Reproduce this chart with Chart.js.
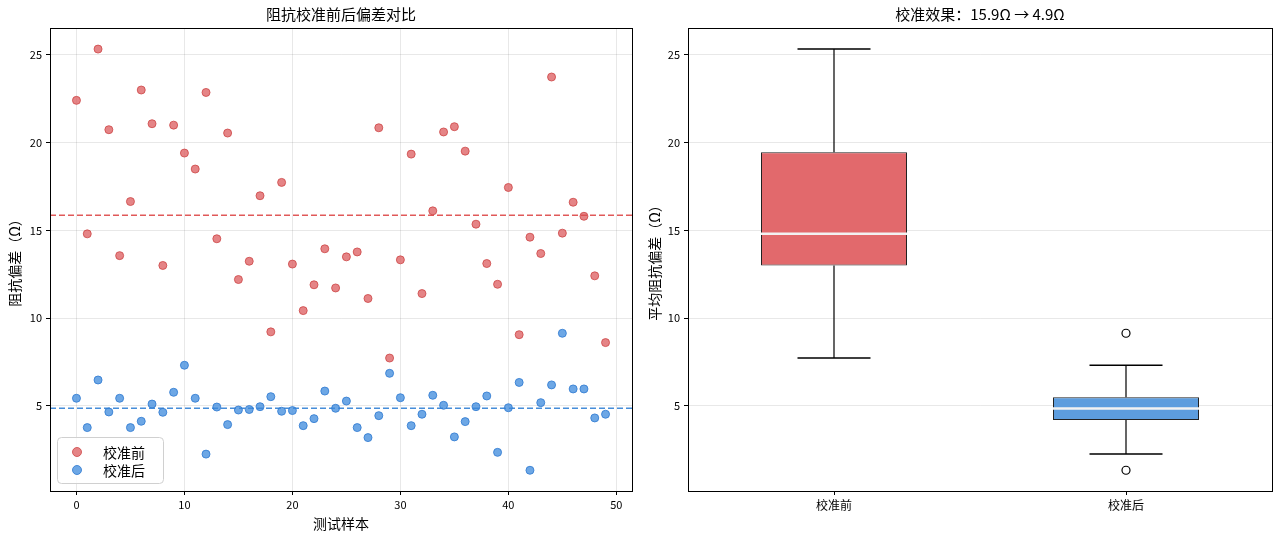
<!DOCTYPE html>
<html>
<head>
<meta charset="utf-8">
<script src="https://cdn.jsdelivr.net/npm/chart.js@4.4.1/dist/chart.umd.min.js"></script>
<style>
  body { margin: 0; background: #fff; }
  .wrap { display: flex; width: 1280px; height: 537px; }
  canvas { display: block; }
</style>
</head>
<body>
<div class="wrap">
  <canvas id="scatter" width="640" height="537"></canvas>
  <canvas id="box" width="640" height="537"></canvas>
</div>
<script>
const FONT = "'Noto Sans CJK SC', 'DejaVu Sans', sans-serif";

// sample index 0..49
const samples = [];
for (let i = 0; i < 50; i++) samples.push(i);

const before = [22.4, 14.8, 25.32, 20.73, 13.56, 16.64, 22.99, 21.07, 13.0, 20.99,
  19.4, 18.49, 22.85, 14.52, 20.54, 12.2, 13.24, 16.97, 9.22, 17.73,
  13.08, 10.43, 11.9, 13.95, 11.72, 13.49, 13.77, 11.12, 20.84, 7.73,
  13.32, 19.34, 11.4, 16.11, 20.6, 20.9, 19.51, 15.35, 13.11, 11.93,
  17.44, 9.06, 14.61, 13.68, 23.73, 14.84, 16.6, 15.8, 12.41, 8.61];

const after = [5.44, 3.77, 6.48, 4.66, 5.44, 3.77, 4.13, 5.11, 4.64, 5.78,
  7.32, 5.44, 2.26, 4.94, 3.94, 4.77, 4.8, 4.96, 5.53, 4.7,
  4.74, 3.88, 4.28, 5.85, 4.87, 5.28, 3.77, 3.2, 4.45, 6.86,
  5.47, 3.88, 4.53, 5.61, 5.04, 3.24, 4.11, 4.96, 5.57, 2.36,
  4.9, 6.34, 1.34, 5.19, 6.2, 9.14, 5.97, 5.97, 4.32, 4.53];

const meanBefore = 15.86;
const meanAfter = 4.87;

// box plot stats: [whiskerLow, q1, median, q3, whiskerHigh]
const boxLabels = ['校准前', '校准后'];
const boxStats = [
  [7.73, 13.0, 14.8, 19.45, 25.32],
  [2.26, 4.2, 4.85, 5.5, 7.32]
];
const fliers = [[], [9.14, 1.34]];

const yTicks = [5, 10, 15, 20, 25];
const yMin = 0.16, yMax = 26.52;

const redFill = 'rgba(218,80,82,0.7)';
const redEdge = 'rgba(205,70,70,0.8)';
const blueFill = 'rgba(60,138,220,0.75)';
const blueEdge = 'rgba(50,125,210,0.85)';

// frame around the plot area
const frame = {
  id: 'frame',
  afterDraw(chart) {
    const a = chart.chartArea, ctx = chart.ctx;
    ctx.save();
    ctx.strokeStyle = '#000';
    ctx.lineWidth = 1;
    ctx.strokeRect(Math.round(a.left) + 0.5, Math.round(a.top) + 0.5,
      Math.round(a.right - a.left), Math.round(a.bottom - a.top));
    ctx.restore();
  }
};

// legend box inside lower-left corner
const innerLegend = {
  id: 'innerLegend',
  afterDraw(chart) {
    const a = chart.chartArea, ctx = chart.ctx;
    const x = a.left + 7, y = a.bottom - 54, w = 106, h = 46;
    ctx.save();
    ctx.fillStyle = 'rgba(255,255,255,0.8)';
    ctx.strokeStyle = '#d0d0d0';
    ctx.lineWidth = 1;
    ctx.beginPath();
    ctx.roundRect(x + 0.5, y + 0.5, w, h, 4);
    ctx.fill();
    ctx.stroke();
    const items = chart.data.datasets.filter(d => d.legend);
    items.forEach((d, i) => {
      const cy = y + 15 + i * 18;
      ctx.beginPath();
      ctx.arc(x + 20, cy, 4.5, 0, Math.PI * 2);
      ctx.fillStyle = d.backgroundColor;
      ctx.fill();
      ctx.strokeStyle = d.borderColor;
      ctx.stroke();
      ctx.fillStyle = '#000';
      ctx.font = '14px ' + FONT;
      ctx.textBaseline = 'middle';
      ctx.fillText(d.label, x + 46, cy + 1);
    });
    ctx.restore();
  }
};

function yAxis(title, width) {
  return {
    type: 'linear', min: yMin, max: yMax,
    afterBuildTicks: s => { s.ticks = yTicks.map(v => ({ value: v })); },
    ticks: { color: '#000', font: { family: FONT, size: 11 }, padding: 4 },
    grid: { color: 'rgba(0,0,0,0.09)', tickColor: '#000', tickLength: 4 },
    border: { color: '#000' },
    title: { display: true, text: title, color: '#000', font: { family: FONT, size: 14 }, padding: { top: 6, bottom: 6 } },
    afterFit: s => { s.width = width; }
  };
}

new Chart(document.getElementById('scatter'), {
  type: 'scatter',
  data: {
    datasets: [
      { label: '校准前', legend: true, data: samples.map((s, i) => ({ x: s, y: before[i] })),
        backgroundColor: redFill, borderColor: redEdge, borderWidth: 1, pointRadius: 4 },
      { label: '校准后', legend: true, data: samples.map((s, i) => ({ x: s, y: after[i] })),
        backgroundColor: blueFill, borderColor: blueEdge, borderWidth: 1, pointRadius: 4 },
      { label: 'mean-before', type: 'line', data: [{ x: -2.45, y: meanBefore }, { x: 51.45, y: meanBefore }],
        borderColor: 'rgba(222,80,80,0.95)', borderWidth: 1.5, borderDash: [6, 3], pointRadius: 0 },
      { label: 'mean-after', type: 'line', data: [{ x: -2.45, y: meanAfter }, { x: 51.45, y: meanAfter }],
        borderColor: 'rgba(60,135,215,0.95)', borderWidth: 1.5, borderDash: [6, 3], pointRadius: 0 }
    ]
  },
  options: {
    responsive: false, animation: false,
    layout: { padding: { left: 0, right: 8, top: 0, bottom: 0 } },
    plugins: {
      legend: { display: false },
      tooltip: { enabled: false },
      title: { display: true, fullSize: false, text: '阻抗校准前后偏差对比', color: '#000',
        font: { family: FONT, size: 15, weight: 'normal' }, padding: { top: 5, bottom: 5 } }
    },
    scales: {
      x: {
        type: 'linear', min: -2.45, max: 51.45,
        afterBuildTicks: s => { s.ticks = [0, 10, 20, 30, 40, 50].map(v => ({ value: v })); },
        ticks: { color: '#000', font: { family: FONT, size: 11 }, padding: 3 },
        grid: { color: 'rgba(0,0,0,0.09)', tickColor: '#000', tickLength: 4 },
        border: { color: '#000' },
        title: { display: true, text: '测试样本', color: '#000', font: { family: FONT, size: 14 }, padding: { top: 2, bottom: 5 } },
        afterFit: s => { s.height = 46; }
      },
      y: yAxis('阻抗偏差（Ω）', 50)
    }
  },
  plugins: [frame, innerLegend]
});

// box chart: floating bars for the boxes, line segments for whiskers and medians
function seg(x0, x1, y0, y1) {
  return [{ x: x0, y: y0 }, { x: x1, y: y1 }, { x: NaN, y: NaN }];
}
const whiskerData = [], capData = [], medianData = [], flierData = [];
boxStats.forEach((st, i) => {
  const p = i + 1;
  whiskerData.push(...seg(p, p, st[3], st[4]), ...seg(p, p, st[0], st[1]));
  capData.push(...seg(p - 0.125, p + 0.125, st[4], st[4]), ...seg(p - 0.125, p + 0.125, st[0], st[0]));
  medianData.push(...seg(p - 0.25, p + 0.25, st[2], st[2]));
  fliers[i].forEach(v => flierData.push({ x: p, y: v }));
});

new Chart(document.getElementById('box'), {
  type: 'bar',
  data: {
    datasets: [
      { label: 'box', data: boxStats.map((st, i) => ({ x: i + 1, y: [st[1], st[3]] })),
        backgroundColor: ['rgb(226,105,108)', 'rgb(93,157,222)'], borderColor: '#222', borderWidth: 1,
        borderSkipped: false, barPercentage: 0.5, categoryPercentage: 1, order: 3 },
      { type: 'line', label: 'whisker', data: whiskerData, borderColor: '#000', borderWidth: 1.2, pointRadius: 0, spanGaps: false, order: 4 },
      { type: 'line', label: 'cap', data: capData, borderColor: '#000', borderWidth: 1.5, pointRadius: 0, spanGaps: false, order: 2 },
      { type: 'line', label: 'median', data: medianData, borderColor: '#f2f2f2', borderWidth: 2.5, pointRadius: 0, spanGaps: false, order: 1 },
      { type: 'scatter', label: 'flier', data: flierData, backgroundColor: '#fff', borderColor: '#000', borderWidth: 1.2, pointRadius: 4, order: 0 }
    ]
  },
  options: {
    responsive: false, animation: false,
    layout: { padding: { left: 0, right: 8, top: 0, bottom: 0 } },
    plugins: {
      legend: { display: false },
      tooltip: { enabled: false },
      title: { display: true, fullSize: false, text: '校准效果：15.9Ω → 4.9Ω', color: '#000',
        font: { family: FONT, size: 15, weight: 'normal' }, padding: { top: 5, bottom: 5 } }
    },
    scales: {
      x: {
        type: 'linear', min: 0.5, max: 2.5, offset: false,
        afterBuildTicks: s => { s.ticks = [1, 2].map(v => ({ value: v })); },
        ticks: { color: '#000', font: { family: FONT, size: 12 }, padding: 3,
          callback: v => boxLabels[v - 1] },
        grid: { offset: false, drawOnChartArea: false, tickColor: '#000', tickLength: 4 },
        border: { color: '#000' },
        afterFit: s => { s.height = 46; }
      },
      y: yAxis('平均阻抗偏差（Ω）', 48)
    }
  },
  plugins: [frame]
});
</script>
</body>
</html>
